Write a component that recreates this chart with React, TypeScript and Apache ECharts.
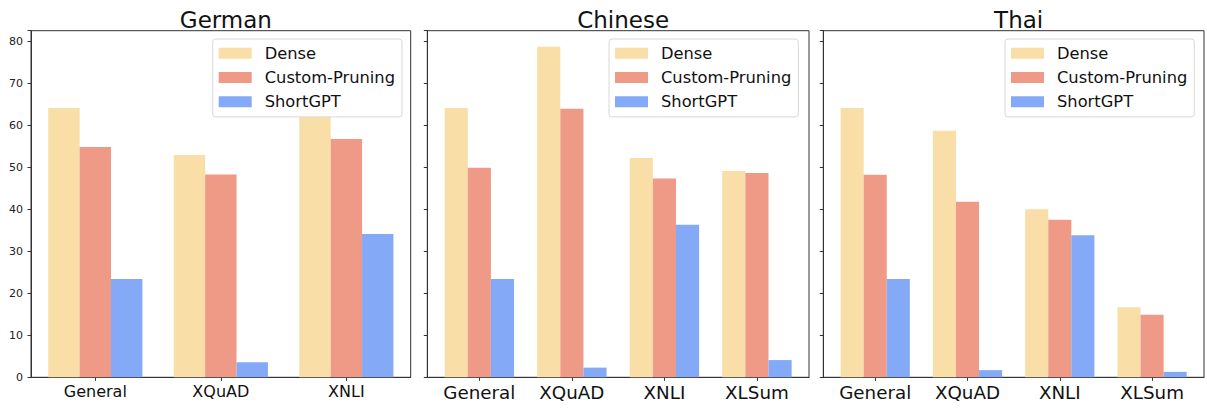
import React, { useEffect, useRef } from "react";
import * as echarts from "echarts";

const seriesNames = ["Dense", "Custom-Pruning", "ShortGPT"];
const colors = ["#F9DEA8", "#EE9A86", "#84A9F7"];

const titles = ["German", "Chinese", "Thai"];

const germanCats = ["General", "XQuAD", "XNLI"];
const germanDense = [64.1, 52.9, 63.0];
const germanCustom = [54.8, 48.3, 56.7];
const germanShort = [23.4, 3.6, 34.1];

const chineseCats = ["General", "XQuAD", "XNLI", "XLSum"];
const chineseDense = [64.1, 78.7, 52.2, 49.1];
const chineseCustom = [49.9, 63.9, 47.3, 48.6];
const chineseShort = [23.4, 2.3, 36.3, 4.1];

const thaiCats = ["General", "XQuAD", "XNLI", "XLSum"];
const thaiDense = [64.1, 58.7, 40.0, 16.7];
const thaiCustom = [48.2, 41.8, 37.5, 14.9];
const thaiShort = [23.4, 1.7, 33.8, 1.3];

const yTicks = [0, 10, 20, 30, 40, 50, 60, 70, 80];

const panels = [
  { cats: germanCats, values: [germanDense, germanCustom, germanShort] },
  { cats: chineseCats, values: [chineseDense, chineseCustom, chineseShort] },
  { cats: thaiCats, values: [thaiDense, thaiCustom, thaiShort] },
];

const FONT = "DejaVu Sans";
const gridLayout = [
  { left: 31, width: 379.7, xFont: 16, legendLeft: 212.7 },
  { left: 427.3, width: 381.7, xFont: 18.3, legendLeft: 609 },
  { left: 823.3, width: 380.7, xFont: 18.3, legendLeft: 1005 },
];
const gridTop = 30.7;
const gridHeight = 346.6;

export default function App() {
  const ref = useRef<HTMLDivElement>(null);
  useEffect(() => {
    if (!ref.current) return;
    const chart = echarts.init(ref.current, null, { renderer: "svg" });

    const grid: any[] = [];
    const xAxis: any[] = [];
    const yAxis: any[] = [];
    const series: any[] = [];
    const legend: any[] = [];
    const title: any[] = [];

    panels.forEach((p, i) => {
      const g = gridLayout[i];
      const n = p.cats.length;
      const pad = ((n - 1) + 0.75) * 0.05;
      const lo = -0.375 - pad;
      const hi = n - 1 + 0.375 + pad;
      grid.push({
        left: g.left,
        top: gridTop,
        width: g.width,
        height: gridHeight,
        show: true,
        borderColor: "#333",
        borderWidth: 1,
        backgroundColor: "transparent",
      });
      const tickVals = p.cats.map((_, k) => k);
      xAxis.push({
        type: "value",
        gridIndex: i,
        min: lo,
        max: hi,
        splitLine: { show: false },
        axisLine: { show: true, onZero: false, lineStyle: { color: "#333", width: 1 } },
        axisTick: {
          show: true,
          customValues: tickVals,
          length: 3.5,
          lineStyle: { color: "#333", width: 1 },
        },
        axisLabel: {
          show: true,
          customValues: tickVals,
          formatter: (v: number) => p.cats[Math.round(v)] ?? "",
          fontFamily: FONT,
          fontSize: g.xFont,
          color: "#111",
          margin: 6,
        },
      });
      yAxis.push({
        type: "value",
        gridIndex: i,
        min: 0,
        max: 82.5,
        interval: 10,
        splitLine: { show: false },
        axisLine: { show: true, onZero: false, lineStyle: { color: "#333", width: 1 } },
        axisTick: {
          show: true,
          length: 3.5,
          lineStyle: { color: "#333", width: 1 },
        },
        axisLabel: {
          show: i === 0,
          fontFamily: FONT,
          fontSize: 11,
          color: "#222",
          margin: 8,
          formatter: (v: number) => (yTicks.includes(v) ? String(v) : ""),
        },
      });
      p.values.forEach((vals, s) => {
        series.push({
          type: "bar",
          name: seriesNames[s],
          xAxisIndex: i,
          yAxisIndex: i,
          barWidth: "25%",
          barGap: "0%",
          itemStyle: { color: colors[s] },
          data: vals.map((v, k) => [k, v]),
          emphasis: { disabled: true },
        });
      });
      legend.push({
        data: seriesNames,
        orient: "vertical",
        left: g.legendLeft,
        top: 39,
        itemWidth: 33,
        itemHeight: 11,
        itemGap: 8,
        icon: "rect",
        padding: [6, 7, 7, 6],
        backgroundColor: "rgba(255,255,255,0.9)",
        borderColor: "#d8d8d8",
        borderWidth: 1,
        borderRadius: 3,
        textStyle: {
          fontFamily: FONT,
          fontSize: 16.3,
          lineHeight: 16.3,
          color: "#111",
          padding: [0, 0, 0, 8],
        },
        selectedMode: false,
      });
      title.push({
        text: titles[i],
        left: g.left + g.width / 2,
        top: 3,
        textAlign: "center",
        textStyle: {
          fontFamily: FONT,
          fontSize: 23,
          fontWeight: "normal",
          color: "#111",
        },
      });
    });

    chart.setOption({
      animation: false,
      backgroundColor: "#fff",
      title,
      legend,
      grid,
      xAxis,
      yAxis,
      series,
    });
    return () => chart.dispose();
  }, []);
  return (
    <div
      ref={ref}
      style={{ position: "fixed", left: 0, top: 0, width: 1207, height: 408 }}
    />
  );
}
